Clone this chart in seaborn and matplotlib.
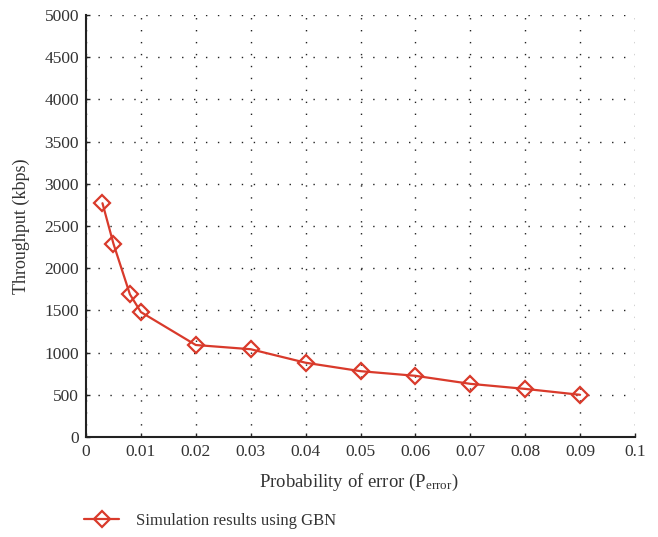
import matplotlib
matplotlib.use("Agg")
import matplotlib.pyplot as plt
import seaborn as sns
import pandas as pd

p_error = [0.003, 0.005, 0.008, 0.01, 0.02, 0.03, 0.04, 0.05, 0.06, 0.07, 0.08, 0.09]
throughput = [2770, 2290, 1690, 1480, 1090, 1040, 880, 780, 725, 630, 570, 500]
series_label = "Simulation results using GBN"
x_ticks = [0, 0.01, 0.02, 0.03, 0.04, 0.05, 0.06, 0.07, 0.08, 0.09, 0.1]
x_tick_labels = ["0", "0.01", "0.02", "0.03", "0.04", "0.05", "0.06", "0.07", "0.08", "0.09", "0.1"]
y_ticks = list(range(0, 5001, 500))

sns.set_theme(style="white")
plt.rcParams["font.family"] = ["Liberation Serif", "DejaVu Serif"]
plt.rcParams["mathtext.fontset"] = "custom"
plt.rcParams["mathtext.rm"] = "Liberation Serif"
plt.rcParams["mathtext.it"] = "Liberation Serif"

df = pd.DataFrame({"p": p_error, "t": throughput, "s": series_label})

W, H = 658, 537
fig = plt.figure(figsize=(W / 100, H / 100), dpi=100)
ax = fig.add_axes([86 / W, 1 - 437 / H, (635 - 86) / W, (437 - 15) / H])

red = "#d93a2b"
sns.lineplot(data=df, x="p", y="t", hue="s", palette=[red], marker="D",
             markersize=8.5, markerfacecolor="none", markeredgecolor=red,
             markeredgewidth=1.6, linewidth=1.6, ax=ax, legend=True)

ax.set_xlim(0, 0.1)
ax.set_ylim(0, 5000)
ax.set_xticks(x_ticks)
ax.set_xticklabels(x_tick_labels)
ax.set_yticks(y_ticks)
ax.grid(True, color="#222222", linestyle=(0, (1, 7.6)), linewidth=1.0)
for side in ["top", "right"]:
    ax.spines[side].set_visible(False)
for side in ["left", "bottom"]:
    ax.spines[side].set_color("#222222")
    ax.spines[side].set_linewidth(1.5)
ax.tick_params(axis="both", direction="in", length=3, width=1, colors="#222222",
               labelsize=12.5, labelcolor="#333333", left=True, bottom=True, pad=5)

ax.set_xlabel("Probability of error (P$_{\\mathrm{error}}$)", fontsize=13.5, color="#333333")
ax.set_ylabel("Throughput (kbps)", fontsize=13, color="#333333")
ax.xaxis.set_label_coords((359 - 86) / (635 - 86), -(482 - 437) / (437 - 15), transform=ax.transAxes)
ax.xaxis.label.set_va("center")
ax.yaxis.set_label_coords(-(86 - 21) / (635 - 86), 0.5, transform=ax.transAxes)
ax.yaxis.label.set_va("center")

leg = ax.legend(loc="center left", bbox_to_anchor=((84 - 86) / (635 - 86), -(521 - 437) / (437 - 15)),
                frameon=False, fontsize=12, handlelength=2.1, handletextpad=1.0,
                borderaxespad=0, borderpad=0)
for t in leg.get_texts():
    t.set_color("#333333")

fig.savefig("out.png", dpi=100)
